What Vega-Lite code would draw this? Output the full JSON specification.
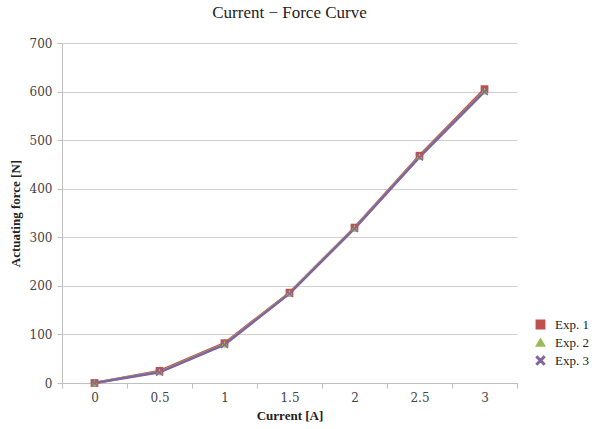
{
  "$schema": "https://vega.github.io/schema/vega-lite/v6.json",
  "width": 455,
  "height": 340,
  "autosize": "none",
  "padding": {"left": 62, "top": 43, "right": 88, "bottom": 46},
  "background": "white",
  "title": {"text": "Current − Force Curve", "font": "Liberation Serif", "fontSize": 17, "fontWeight": "normal", "color": "#222", "offset": 15, "anchor": "middle"},
  "data": {"values": [
    {"current": "0", "force": 0, "series": "Exp. 1"},
    {"current": "0.5", "force": 25, "series": "Exp. 1"},
    {"current": "1", "force": 82, "series": "Exp. 1"},
    {"current": "1.5", "force": 186, "series": "Exp. 1"},
    {"current": "2", "force": 320, "series": "Exp. 1"},
    {"current": "2.5", "force": 468, "series": "Exp. 1"},
    {"current": "3", "force": 605, "series": "Exp. 1"},
    {"current": "0", "force": 0, "series": "Exp. 2"},
    {"current": "0.5", "force": 23, "series": "Exp. 2"},
    {"current": "1", "force": 80, "series": "Exp. 2"},
    {"current": "1.5", "force": 185, "series": "Exp. 2"},
    {"current": "2", "force": 319, "series": "Exp. 2"},
    {"current": "2.5", "force": 466, "series": "Exp. 2"},
    {"current": "3", "force": 601, "series": "Exp. 2"},
    {"current": "0", "force": 0, "series": "Exp. 3"},
    {"current": "0.5", "force": 22, "series": "Exp. 3"},
    {"current": "1", "force": 79, "series": "Exp. 3"},
    {"current": "1.5", "force": 184, "series": "Exp. 3"},
    {"current": "2", "force": 318, "series": "Exp. 3"},
    {"current": "2.5", "force": 465, "series": "Exp. 3"},
    {"current": "3", "force": 600, "series": "Exp. 3"}
  ]},
  "encoding": {
    "x": {"field": "current", "type": "ordinal", "sort": null, "bandPosition": 0.5,
      "scale": {"type": "band", "paddingInner": 0, "paddingOuter": 0},
      "axis": {"title": "Current [A]", "labelAngle": 0, "tickBand": "extent", "grid": false, "domainColor": "#bfbfbf", "tickColor": "#bfbfbf", "tickSize": 5, "labelFont": "DejaVu Serif", "labelFontSize": 12, "labelColor": "#444", "labelPadding": 4, "titleFont": "Liberation Serif", "titleFontSize": 13, "titleFontWeight": "bold", "titleColor": "#222", "titlePadding": 6}},
    "y": {"field": "force", "type": "quantitative",
      "scale": {"domain": [0, 700], "nice": false},
      "axis": {"title": "Actuating force [N]", "values": [0,100,200,300,400,500,600,700], "grid": true, "gridColor": "#d0d0d0", "domainColor": "#bfbfbf", "tickColor": "#bfbfbf", "tickSize": 5, "labelFont": "DejaVu Serif", "labelFontSize": 12, "labelColor": "#444", "labelPadding": 5, "titleFont": "Liberation Serif", "titleFontSize": 13, "titleFontWeight": "bold", "titleColor": "#222", "titlePadding": 7}},
    "color": {"field": "series", "type": "nominal",
      "scale": {"domain": ["Exp. 1", "Exp. 2", "Exp. 3"], "range": ["#C0504D", "#9BBB59", "#8064A2"]},
      "legend": {"title": null, "orient": "none", "legendX": 472, "legendY": 275, "labelFont": "Liberation Serif", "labelFontSize": 13, "labelColor": "#222", "rowPadding": 3, "symbolSize": 70, "labelOffset": 8}},
    "shape": {"field": "series", "type": "nominal",
      "scale": {"domain": ["Exp. 1", "Exp. 2", "Exp. 3"], "range": ["square", "triangle-up", "M-1,-0.75L-0.75,-1L0,-0.25L0.75,-1L1,-0.75L0.25,0L1,0.75L0.75,1L0,0.25L-0.75,1L-1,0.75L-0.25,0Z"]},
      "legend": null}
  },
  "layer": [
    {"mark": {"type": "line", "strokeWidth": 2.5}},
    {"mark": {"type": "point", "filled": true, "size": 60, "opacity": 1}}
  ],
  "config": {"view": {"stroke": null}}
}
